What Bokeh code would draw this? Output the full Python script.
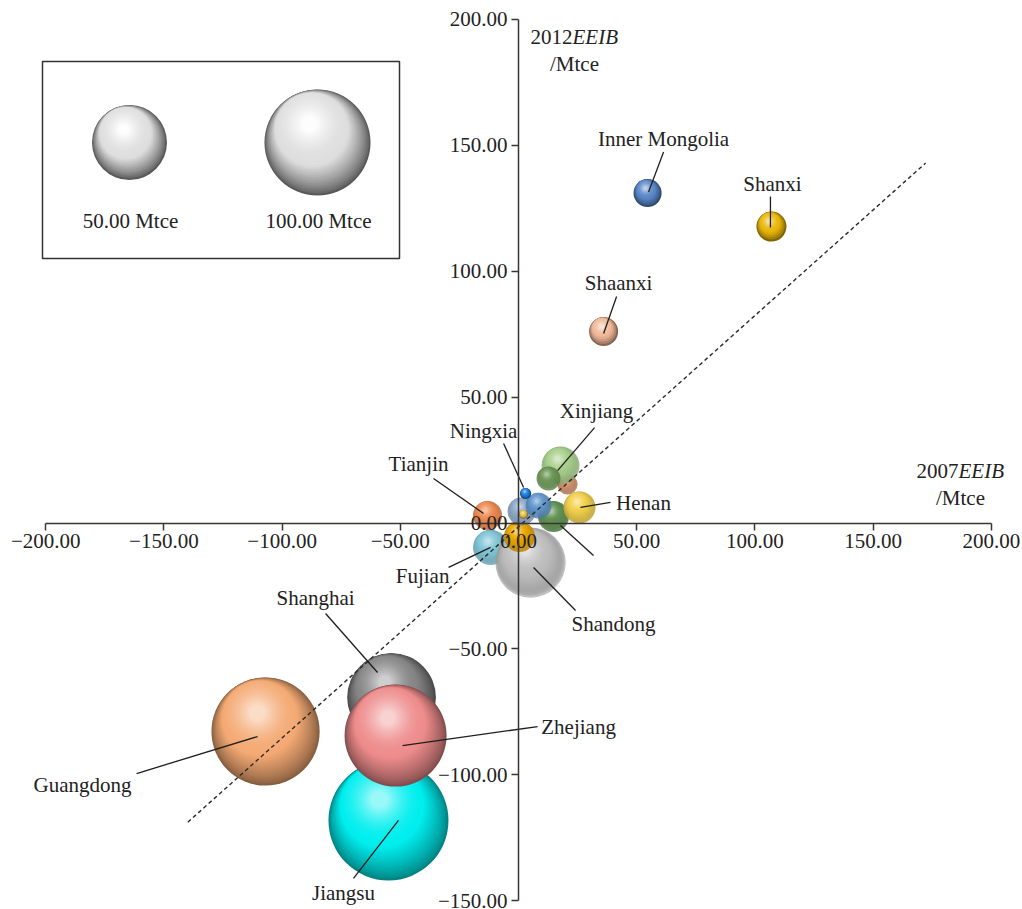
import math
from bokeh.plotting import figure
from bokeh.models import Range1d, FixedTicker, CustomJSTickFormatter, BoxAnnotation
from bokeh.core.properties import value
from bokeh.embed import file_html
from bokeh.resources import INLINE

W, H = 1022, 909
FONT = "Liberation Serif"

# ---------------------------------------------------------------- data
# EEIB of each province in 2007 (x) and 2012 (y), Mtce; bubble size in Mtce
provinces = ["Shaanxi", "Inner Mongolia", "Shanxi", "Guangdong", "Jiangsu",
             "Shanghai", "Zhejiang", "", "Xinjiang", "", "Tianjin", "",
             "Fujian", "", "Shandong", "", "", "", "Henan", "Ningxia", ""]
eeib_2007 = [36.0, 54.6, 107.0, -107.0, -55.0,
             -53.7, -52.0, 20.7, 17.8, 12.7, -13.1, 14.8,
             -11.8, -1.3, 5.1, 0.4, 1.3, 8.5, 25.8, 3.0, 2.1]
eeib_2012 = [76.0, 131.0, 117.7, -82.8, -118.1,
             -69.3, -84.4, 15.3, 22.8, 17.7, 3.0, 2.6,
             -9.7, -10.1, -15.7, -5.4, 4.6, 6.9, 6.2, 11.7, 3.4]
size_mtce = [7.5, 7.0, 8.0, 104.0, 128.0,
             70.0, 92.5, 3.6, 12.8, 5.1, 7.5, 8.5,
             11.0, 7.5, 44.0, 8.5, 7.0, 6.0, 9.1, 1.1, 0.7]
colors = ["#f0b898", "#5a86c8", "#e8b60a", "#f4aa74", "#00eeee",
          "#858585", "#ee8c8c", "#d8906a", "#a8d08c", "#6d9a58", "#f28c52", "#5f9252",
          "#80c6d8", "#7c9cc8", "#bdbdbd", "#eca800", "#8eaacb", "#6398d2", "#f4d24c",
          "#1e80e2", "#e8c54c"]
opacity = [1, 1, 1, 1, 1,
           1, 1, 0.85, 0.75, 0.8, 0.9, 0.85,
           0.8, 0.7, 0.6, 0.85, 0.8, 0.8, 0.9, 1, 1]

# regression (dashed) line end points
trend_x = [-139.9, 172.2]
trend_y = [-118.8, 142.9]

x_ticks = [-200, -150, -100, -50, 0, 50, 100, 150, 200]
y_ticks = [-150, -100, -50, 0, 50, 100, 150, 200]

legend_mtce = [50, 100]

# callouts: bubble index, text, text offset, leader start, leader end (screen px from bubble centre)
callouts = [
    (1, "Inner Mongolia", (16, -54), (16, -41), (1, -1)),
    (2, "Shanxi", (1, -43), (-1, -30), (-1, 1)),
    (0, "Shaanxi", (15, -49), (13, -35), (0, 2)),
    (8, "Xinjiang", (36, -55), (34, -38), (-3, 5)),
    (19, "Ningxia", (-42, -63), (-22, -50), (-2, -6)),
    (10, "Tianjin", (-69, -51), (-54, -37), (-4, -2)),
    (18, "Henan", (64, -4), (31, -5), (1, 0)),
    (12, "Fujian", (-68, 29), (-42, 20), (0, 0)),
    (14, "Shandong", (83, 61), (45, 48), (3, 5)),
    (11, "", (0, 0), (40, 39), (7, 9)),
    (5, "Shanghai", (-76, -100), (-66, -84), (-14, -25)),
    (6, "Zhejiang", (183, -9), (142, -9), (7, 10)),
    (3, "Guangdong", (-183, 53), (-129, 42), (-8, 5)),
    (4, "Jiangsu", (-45, 73), (-35, 58), (10, 0)),
]

# ---------------------------------------------------------------- geometry
X0_PX, Y0_PX = 518.0, 522.5      # canvas position of the (0, 0) crossing
SX, SY = 2.364, 2.5186            # pixels per Mtce along x and y
D50 = 75.0                        # diameter (px) of a 50 Mtce bubble


def to_data(px, py):
    return (px - X0_PX) / SX, (Y0_PX - py) / SY


def diameter(v):
    return D50 * math.sqrt(v / 50.0)


p = figure(width=W, height=H, output_backend="svg", toolbar_location=None,
           x_range=Range1d(-X0_PX / SX, (W - X0_PX) / SX),
           y_range=Range1d((Y0_PX - H) / SY, Y0_PX / SY),
           min_border_left=0, min_border_right=0, min_border_top=0, min_border_bottom=0)
p.outline_line_color = None
p.grid.visible = False
p.background_fill_color = "white"
p.border_fill_color = "white"

fmt = CustomJSTickFormatter(code="return (tick < 0 ? '\u2212' : '') + Math.abs(tick).toFixed(2);")
for ax, ticks, bounds in ((p.xaxis[0], x_ticks, (-200, 200)), (p.yaxis[0], y_ticks, (-150, 200))):
    ax.fixed_location = 0
    ax.bounds = bounds
    ax.ticker = FixedTicker(ticks=ticks)
    ax.formatter = fmt
    ax.minor_tick_line_color = None
    ax.major_tick_in = 0
    ax.major_tick_out = 7
    ax.axis_line_color = "#3a3533"
    ax.axis_line_width = 1.5
    ax.major_tick_line_color = "#3a3533"
    ax.major_tick_line_width = 1.5
    ax.major_label_text_font = FONT
    ax.major_label_text_font_size = "21px"
    ax.major_label_text_color = "#222222"
p.xaxis.major_label_standoff = 4
p.yaxis.major_label_standoff = 4


# ---------------------------------------------------------------- shaded spheres
def hex_rgb(h):
    return tuple(int(h[i:i + 2], 16) for i in (1, 3, 5))


def mix(a, b, t):
    return tuple(a[i] + (b[i] - a[i]) * t for i in range(3))


def to_hex(c):
    return "#%02x%02x%02x" % tuple(int(round(max(0, min(255, v)))) for v in c)


def sphere(x, y, d, color, alpha, highlight=0.6, rim=0.55):
    """Stack of shrinking discs drifting to the upper left: a lit ball."""
    base = hex_rgb(color)
    if alpha < 1:
        rim = 0.8                # glassy balls: softer shading
    dark = tuple(v * rim for v in base)
    white = (255, 255, 255)
    n = int(max(8, min(44, d / 2.5)))
    xs, ys, ss, cs, als = [], [], [], [], []
    for k in range(n):
        t = k / (n - 1)
        off = min(0.38 * d * t, 0.19 * d)
        xs.append(x - 0.4 * off / SX)
        ys.append(y + 0.92 * off / SY)
        ss.append(d * (1 - 0.86 * t))
        if t < 0.35:
            c = mix(dark, base, (t / 0.35) ** 0.8)
        else:
            c = mix(base, white, highlight * ((t - 0.35) / 0.65) ** 1.6)
        cs.append(to_hex(c))
        als.append(alpha if (k == 0 or alpha >= 1) else 0.5)
    p.scatter(xs, ys, size=ss, marker="circle", fill_color=cs, fill_alpha=als, line_color=None)


for i in range(len(provinces)):
    sphere(eeib_2007[i], eeib_2012[i], diameter(size_mtce[i]), colors[i], opacity[i])

# dashed fit line
p.line(trend_x, trend_y, line_dash="4 3", line_color="#2a2a2a", line_width=1.4)

# callouts with leader lines
lx0, ly0, lx1, ly1 = [], [], [], []
tx, ty, tt = [], [], []
for idx, text, (tdx, tdy), (sdx, sdy), (edx, edy) in callouts:
    bx, by = eeib_2007[idx], eeib_2012[idx]
    lx0.append(bx + sdx / SX)
    ly0.append(by - sdy / SY)
    lx1.append(bx + edx / SX)
    ly1.append(by - edy / SY)
    if text:
        tx.append(bx + tdx / SX)
        ty.append(by - tdy / SY)
        tt.append(text)
p.segment(lx0, ly0, lx1, ly1, line_color="#1e1e1e", line_width=1.3)
p.text(tx, ty, text=tt, text_font=value(FONT), text_font_size="21px",
       text_color="#222222", text_align="center", text_baseline="middle")

# size legend
bx0, by1 = to_data(42, 61)
bx1, by0 = to_data(399, 258)
p.add_layout(BoxAnnotation(left=bx0, right=bx1, bottom=by0, top=by1, fill_alpha=0,
                           line_color="#333333", line_alpha=1.0, line_width=1.5))
legend_px = [129, 317]
for v, lpx in zip(legend_mtce, legend_px):
    cx, cy = to_data(lpx, 142)
    sphere(cx, cy, diameter(v), "#dedede", 1, highlight=0.95, rim=0.4)
    lx, ly = to_data(lpx + 1, 220)
    p.text([lx], [ly], text=["%.2f Mtce" % v], text_font=value(FONT), text_font_size="21px",
           text_color="#222222", text_align="center", text_baseline="middle")


# axis titles
def title(px_split, py_top, year):
    ax_, ay_ = to_data(px_split, py_top)
    p.text([ax_], [ay_], text=[year], text_font=value(FONT), text_font_size="21px",
           text_color="#222222", text_align="right", text_baseline="middle")
    p.text([ax_], [ay_], text=["EEIB"], text_font=value(FONT), text_font_size="21px",
           text_font_style="italic", text_color="#222222", text_align="left", text_baseline="middle")
    ux, uy = to_data(px_split + 2, py_top + 27)
    p.text([ux], [uy], text=["/Mtce"], text_font=value(FONT), text_font_size="21px",
           text_color="#222222", text_align="center", text_baseline="middle")


title(572, 36, "2012")
title(958, 470, "2007")

open("out.html", "w").write(file_html(p, INLINE))
